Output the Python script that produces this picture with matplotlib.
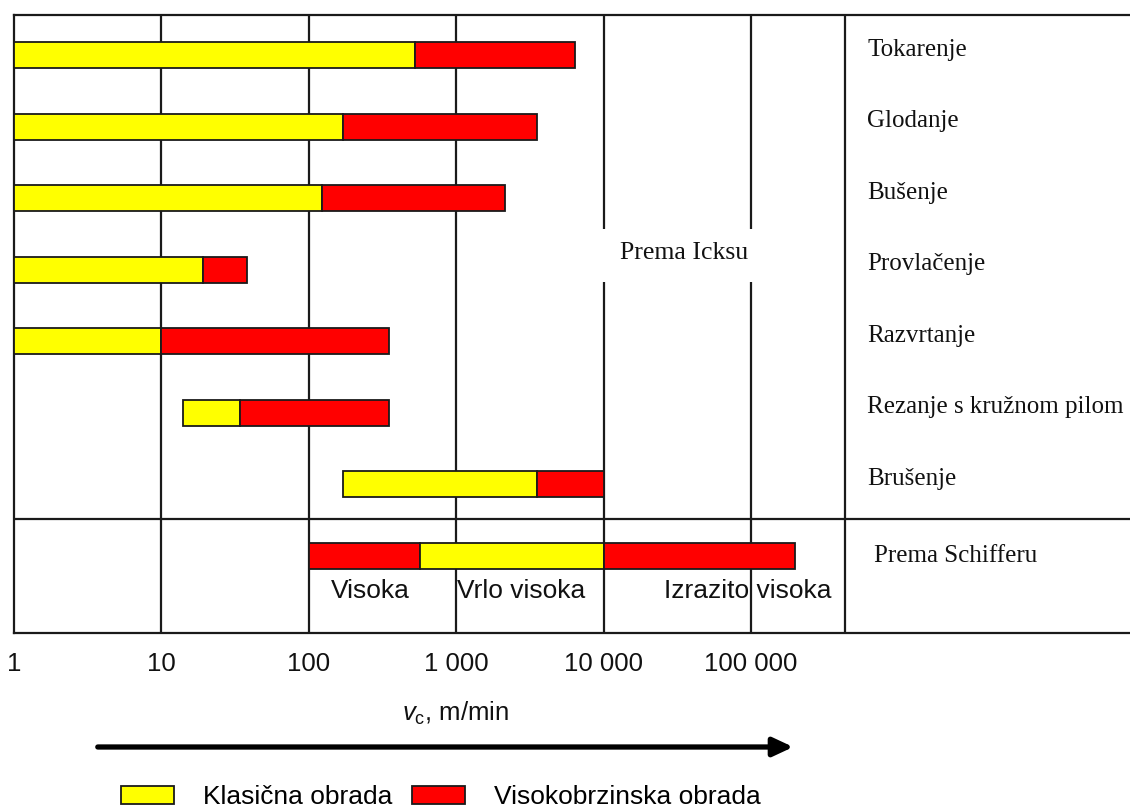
import matplotlib
matplotlib.use("Agg")
import matplotlib.pyplot as plt
from matplotlib.patches import Patch, FancyArrowPatch

# ---------------- data ----------------
processes = ["Tokarenje", "Glodanje", "Bušenje", "Provlačenje", "Razvrtanje",
             "Rezanje s kružnom pilom", "Brušenje"]
classic_start = [1, 1, 1, 1, 1, 14, 170]
classic_end = [525, 170, 123, 19, 10, 34, 3550]
highspeed_end = [6400, 3550, 2150, 38, 350, 350, 10000]

schiffer_label = "Prema Schifferu"
schiffer_edges = [100, 570, 10000, 200000]
schiffer_kinds = ["hs", "classic", "hs"]
schiffer_names = ["Visoka", "Vrlo visoka", "Izrazito visoka"]
schiffer_name_x = [260, 2760, 95000]

icks_label = "Prema Icksu"
icks_x = 35000

tick_values = [1, 10, 100, 1000, 10000, 100000]
tick_labels = ["1", "10", "100", "1 000", "10 000", "100 000"]

legend_labels = ["Klasična obrada", "Visokobrzinska obrada"]
xlabel = r"$\mathit{v}_\mathrm{c}$, m/min"

# ---------------- style ----------------
YELLOW = "#FFFF00"
RED = "#FF0000"
LINE = "#1a1a1a"
SERIF = ["Liberation Serif", "DejaVu Serif"]
SANS = ["Liberation Sans", "DejaVu Sans"]
plt.rcParams["mathtext.fontset"] = "custom"
plt.rcParams["mathtext.it"] = "Liberation Sans:italic"
plt.rcParams["mathtext.rm"] = "Liberation Sans"
plt.rcParams["font.family"] = SANS

W, H = 1130, 811
fig = plt.figure(figsize=(W / 100, H / 100), dpi=100)
ax = fig.add_axes([14 / W, 178 / H, 1116 / W, 618 / H])
ax.set_xscale("log")
ax.set_xlim(1, 10 ** 7.57)
ax.set_ylim(8.08, -0.565)

bar_h = 0.365
rows = list(range(len(processes)))
schiffer_row = len(processes)
divider_y = 6.49

# grid lines (with a gap around the "Prema Icksu" label for the top two)
label_y = 2.8
gap = 0.37
for v in tick_values[1:]:
    if v >= 10000:
        ax.vlines(v, -0.6, label_y - gap, color=LINE, lw=1.6, zorder=1)
        ax.vlines(v, label_y + gap, 8.2, color=LINE, lw=1.6, zorder=1)
    else:
        ax.axvline(v, color=LINE, lw=1.6, zorder=1)
sep_frac = (845 - 14) / 1116
ax.axvline(10 ** (7.57 * sep_frac), color=LINE, lw=1.6, zorder=1)
ax.axhline(divider_y, color=LINE, lw=1.6, zorder=1)

# process bars
ax.barh(rows, [e - s for s, e in zip(classic_start, classic_end)], left=classic_start,
        height=bar_h, color=YELLOW, edgecolor=LINE, linewidth=1.3, zorder=3)
ax.barh(rows, [e - s for s, e in zip(classic_end, highspeed_end)], left=classic_end,
        height=bar_h, color=RED, edgecolor=LINE, linewidth=1.3, zorder=3)

# Schiffer bar
for a, b, k in zip(schiffer_edges[:-1], schiffer_edges[1:], schiffer_kinds):
    ax.barh(schiffer_row, b - a, left=a, height=bar_h,
            color=(YELLOW if k == "classic" else RED), edgecolor=LINE,
            linewidth=1.3, zorder=3)
for name, x in zip(schiffer_names, schiffer_name_x):
    ax.text(x, schiffer_row + 0.49, name, ha="center", va="center",
            fontsize=19, family=SANS, color="#111111", zorder=4)

# row labels on the right
lab_x = (867 - 14) / 1116
for r, name in zip(rows, processes):
    ax.text(lab_x, r - 0.08, name, transform=ax.get_yaxis_transform(),
            ha="left", va="center", fontsize=18, family=SERIF, color="#111111")
ax.text(lab_x + 0.006, schiffer_row, schiffer_label, transform=ax.get_yaxis_transform(),
        ha="left", va="center", fontsize=18, family=SERIF, color="#111111")
ax.text(icks_x, label_y - 0.03, icks_label, ha="center", va="center",
        fontsize=18.5, family=SERIF, color="#111111")

# axes frame & ticks
for s in ["top", "bottom", "left"]:
    ax.spines[s].set_linewidth(1.6)
    ax.spines[s].set_color(LINE)
ax.spines["right"].set_visible(False)
ax.set_yticks([])
ax.set_xticks(tick_values)
ax.set_xticklabels(tick_labels, fontsize=18.5, family=SANS, color="#111111")
ax.xaxis.set_minor_locator(matplotlib.ticker.NullLocator())
ax.tick_params(axis="x", length=0, pad=14)

# x label, arrow, legend
fig.text(456 / W, 1 - 713 / H, xlabel, ha="center", va="center", fontsize=18.5,
         color="#111111")
arrow = FancyArrowPatch((95 / W, 1 - 747 / H), (796 / W, 1 - 747 / H),
                        transform=fig.transFigure,
                        arrowstyle="-|>,head_length=0.6,head_width=0.28",
                        mutation_scale=20, lw=3.8, color="black")
fig.add_artist(arrow)

handles = [Patch(facecolor=YELLOW, edgecolor=LINE, linewidth=1.3),
           Patch(facecolor=RED, edgecolor=LINE, linewidth=1.3)]
fig.legend(handles, legend_labels, loc="center", bbox_to_anchor=(441 / W, 1 - 797 / H),
           ncol=2, frameon=False, fontsize=19, handlelength=2.0, handleheight=0.7,
           handletextpad=1.1, columnspacing=0.75, borderpad=0)

fig.savefig("out.png", dpi=100, facecolor="white")
